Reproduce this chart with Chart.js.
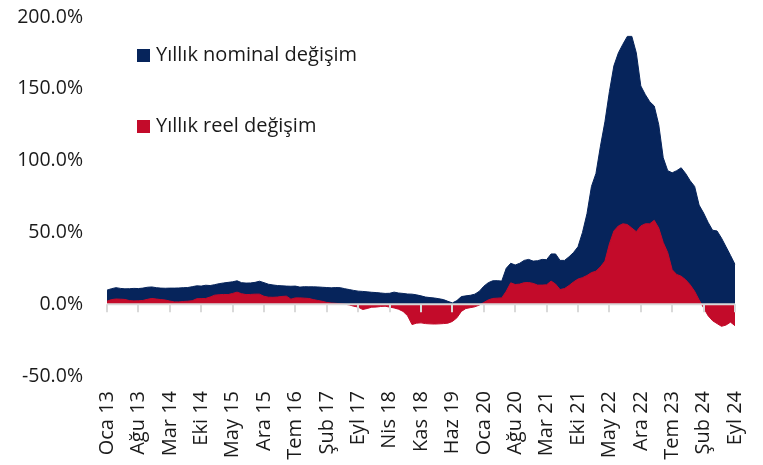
<!DOCTYPE html>
<html lang="tr">
<head>
<meta charset="UTF-8">
<title>Yıllık değişim</title>
<script src="https://cdn.jsdelivr.net/npm/chart.js"></script>
<style>
  body { margin: 0; background: #fff; }
  #wrap { position: relative; width: 763px; height: 465px; }
  .leg { position: absolute; left: 137px; font: 20px "Open Sans", sans-serif; color: #1a1a1a; white-space: nowrap; }
  .leg span { display: inline-block; width: 13px; height: 13px; margin-right: 6px; vertical-align: -1px; }
</style>
</head>
<body>
<div id="wrap">
  <canvas id="chart" width="763" height="465"></canvas>
  <div class="leg" style="top:40px"><span style="background:#06245b"></span>Yıllık nominal değişim</div>
  <div class="leg" style="top:111px"><span style="background:#c30b2a"></span>Yıllık reel değişim</div>
</div>
<script>
// aylar ve yillar (Oca 13 - Eyl 24)
var monthNames = ['Oca', 'Şub', 'Mar', 'Nis', 'May', 'Haz', 'Tem', 'Ağu', 'Eyl', 'Eki', 'Kas', 'Ara'];
var firstYear = 13;
var tickEvery = 7;

// yillik nominal degisim (%)
var nominal = [
  9.8, 10.8, 11.5, 11.0, 10.7, 10.8, 11.0, 10.9, 11.2, 11.8,
  12.0, 11.5, 11.2, 11.1, 11.2, 11.2, 11.3, 11.5, 11.6, 12.2,
  12.8, 12.6, 13.2, 13.0, 13.6, 14.3, 14.8, 15.2, 15.6, 16.3,
  15.0, 14.7, 14.8, 15.2, 16.0, 15.0, 13.9, 13.4, 13.0, 12.8,
  12.6, 12.5, 12.6, 11.9, 12.2, 12.1, 12.1, 12.0, 11.8, 11.6,
  11.4, 11.6, 11.5, 10.8, 10.2, 9.6, 9.1, 8.9, 8.6, 8.3,
  8.1, 7.8, 7.5, 7.6, 8.4, 7.8, 7.5, 7.1, 7.0, 6.5,
  5.8, 5.0, 4.6, 4.3, 3.8, 3.2, 2.0, 0.9, 2.5, 5.3,
  5.8, 6.2, 7.0, 9.0, 12.5, 15.0, 16.3, 16.4, 16.1, 25.0,
  28.5, 27.3, 28.5, 30.5, 31.2, 30.0, 30.3, 31.2, 31.0, 35.0,
  35.0, 30.5, 30.5, 33.0, 36.0, 40.0, 50.0, 63.0, 82.0, 91.0,
  110, 127, 148, 166, 175, 181, 186.5, 186.5, 175, 152,
  146, 141, 138, 125, 102, 93, 91.5, 93, 95, 91,
  86, 82, 69, 63.5, 57, 51.5, 51, 46, 40, 34, 27.7
];

// yillik reel degisim (%)
var reel = [
  2.1, 3.2, 3.6, 3.5, 3.3, 2.5, 2.3, 2.4, 2.6, 3.4,
  4.0, 3.6, 3.2, 2.9, 2.2, 1.6, 1.6, 1.9, 2.1, 2.4,
  3.8, 3.9, 4.0, 5.0, 6.3, 6.6, 6.8, 6.7, 7.5, 8.4,
  7.3, 6.7, 6.8, 7.0, 7.0, 5.5, 4.9, 4.8, 5.0, 5.4,
  5.6, 3.5, 4.4, 4.4, 4.2, 4.0, 3.2, 2.6, 2.0, 1.2,
  0.8, 0.6, 0.3, 0.0, -0.5, -1.4, -2.0, -3.7, -3.0, -2.1,
  -2.0, -1.6, -1.4, -2.0, -2.6, -3.5, -5.0, -8.0, -14.2, -13.2,
  -13.0, -13.5, -13.7, -13.8, -13.7, -13.5, -13.2, -12.0, -9.5, -5.0,
  -3.0, -2.4, -1.8, -0.6, 1.2, 3.0, 4.0, 4.2, 4.4, 9.0,
  14.9, 13.7, 14.0, 15.0, 15.1, 14.5, 13.3, 13.3, 13.5, 16.1,
  14.0, 10.2, 10.9, 13.0, 15.5, 17.5, 18.5, 20.0, 22.0, 23.0,
  26, 30, 42, 51, 54.5, 56, 55.5, 53, 50.5, 54.5,
  56, 56, 58.4, 53, 43, 36, 24, 20.7, 19.5, 17,
  13.5, 9, 3, -2.5, -8, -11.5, -13.5, -15.4, -14.5, -12.5, -15
];

var labels = nominal.map(function (v, i) {
  return monthNames[i % 12] + ' ' + (firstYear + Math.floor(i / 12));
});

// sifir cizgisi ve tik isaretleri
var zeroAxis = {
  id: 'zeroAxis',
  afterDatasetsDraw: function (chart) {
    var ctx = chart.ctx, x = chart.scales.x, y = chart.scales.y;
    var y0 = y.getPixelForValue(0);
    ctx.save();
    ctx.strokeStyle = '#d9d9d9';
    ctx.lineWidth = 2;
    ctx.beginPath();
    ctx.moveTo(chart.chartArea.left, y0);
    ctx.lineTo(chart.chartArea.right, y0);
    for (var i = 0; i < labels.length; i += tickEvery) {
      var px = Math.round(x.getPixelForValue(i));
      ctx.moveTo(px, y0);
      ctx.lineTo(px, y0 + 8);
    }
    ctx.stroke();
    ctx.restore();
  }
};

new Chart(document.getElementById('chart'), {
  type: 'line',
  data: {
    labels: labels,
    datasets: [{
      label: 'Yıllık reel değişim',
      data: reel,
      backgroundColor: '#c30b2a',
      borderColor: '#c30b2a',
      borderWidth: 1,
      fill: 'origin',
      pointRadius: 0,
      tension: 0,
      order: 0
    }, {
      label: 'Yıllık nominal değişim',
      data: nominal,
      backgroundColor: '#06245b',
      borderColor: '#06245b',
      borderWidth: 1,
      fill: 'origin',
      pointRadius: 0,
      tension: 0,
      order: 1
    }]
  },
  options: {
    responsive: false,
    animation: false,
    layout: { padding: { top: 17, right: 28, left: 0, bottom: 0 } },
    plugins: { legend: { display: false }, tooltip: { enabled: false } },
    scales: {
      x: {
        offset: false,
        grid: { display: false, drawTicks: false },
        border: { display: false },
        afterFit: function (s) {
          s.height = 89;
          s.paddingLeft = 0; s.paddingRight = 0; s.paddingTop = 0; s.paddingBottom = 0;
        },
        ticks: {
          autoSkip: false,
          maxRotation: 90,
          minRotation: 90,
          padding: 15,
          color: '#1a1a1a',
          font: { family: 'Open Sans', size: 20 },
          callback: function (v, i) { return i % tickEvery === 0 ? labels[i] : null; }
        }
      },
      y: {
        min: -50,
        max: 200,
        grid: { display: false, drawTicks: false },
        border: { display: false },
        afterFit: function (s) {
          s.width = 107;
          s.paddingLeft = 0; s.paddingRight = 0; s.paddingTop = 0; s.paddingBottom = 0;
        },
        ticks: {
          stepSize: 50,
          padding: 24,
          color: '#1a1a1a',
          font: { family: 'Open Sans', size: 19.5 },
          callback: function (v) { return v.toFixed(1) + '%'; }
        }
      }
    }
  },
  plugins: [zeroAxis]
});
</script>
</body>
</html>
